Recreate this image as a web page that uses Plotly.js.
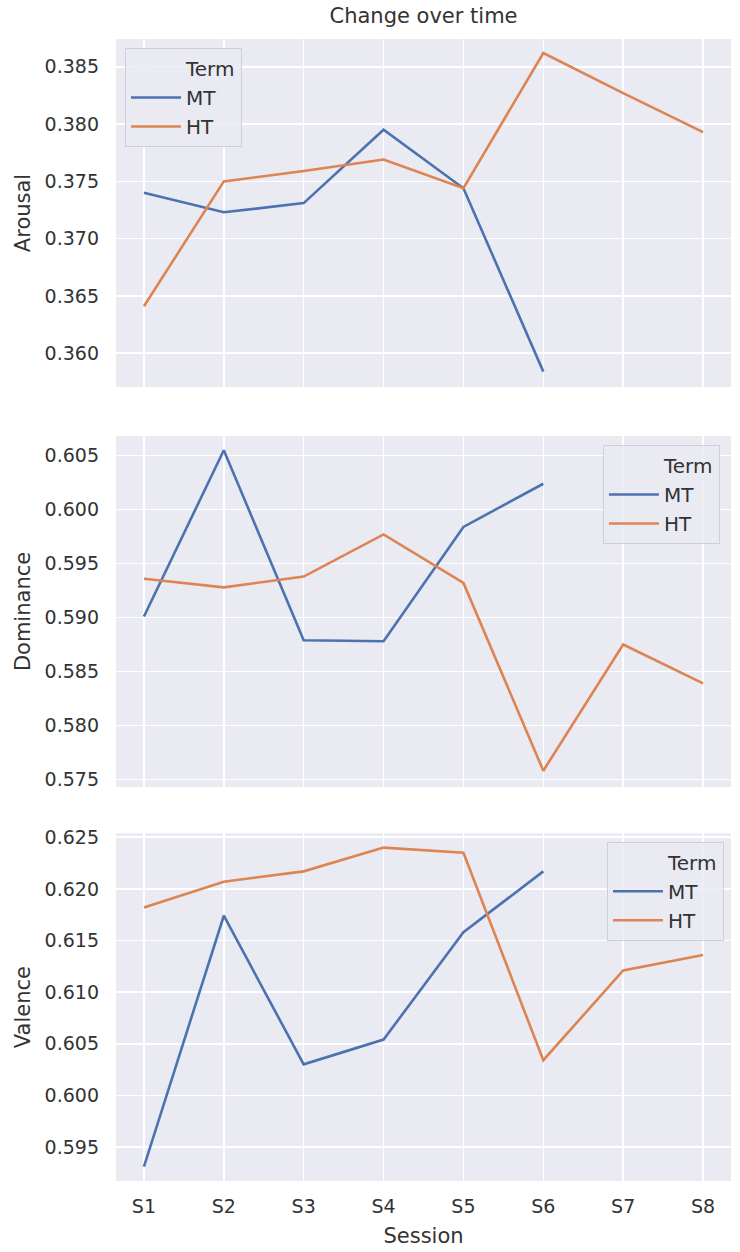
<!DOCTYPE html>
<html>
<head>
<meta charset="utf-8">
<script src="https://cdn.plot.ly/plotly-3.0.1.min.js"></script>
<style>html,body{margin:0;padding:0;background:#fff;}#chart{width:740px;height:1252px;}</style>
</head>
<body>
<div id="chart"></div>
<script>
const sessions = ["S1","S2","S3","S4","S5","S6","S7","S8"];
const mtSessions = ["S1","S2","S3","S4","S5","S6"];
const arousalMT = [0.3740, 0.3723, 0.3731, 0.3795, 0.3744, 0.3584];
const arousalHT = [0.3641, 0.3750, 0.3759, 0.3769, 0.3744, 0.3862, 0.3827, 0.3793];
const dominanceMT = [0.5901, 0.6055, 0.5879, 0.5878, 0.5984, 0.6024];
const dominanceHT = [0.5936, 0.5928, 0.5938, 0.5977, 0.5932, 0.5758, 0.5875, 0.5839];
const valenceMT = [0.5931, 0.6174, 0.6030, 0.6054, 0.6158, 0.6217];
const valenceHT = [0.6182, 0.6207, 0.6217, 0.6240, 0.6235, 0.6034, 0.6121, 0.6136];
const legendTitle = "Term";

const BLUE = "#4c72b0", ORANGE = "#dd8452";
const FONT = "DejaVu Sans, sans-serif";
const TXT = "#333333";

function tr(x, y, name, color, xa, ya, leg) {
  return {x: x, y: y, name: name, type: "scatter", mode: "lines",
    line: {color: color, width: 2.6}, xaxis: xa, yaxis: ya, legend: leg, hoverinfo: "skip"};
}
function header(xa, ya, leg) {
  return {x: [null], y: [null], name: legendTitle, type: "scatter", mode: "lines",
    line: {color: "rgba(0,0,0,0)", width: 0}, xaxis: xa, yaxis: ya, legend: leg,
    showlegend: true, hoverinfo: "skip"};
}
const data = [
  header("x", "y", "legend"),
  tr(mtSessions, arousalMT, "MT", BLUE, "x", "y", "legend"),
  tr(sessions, arousalHT, "HT", ORANGE, "x", "y", "legend"),
  header("x2", "y2", "legend2"),
  tr(mtSessions, dominanceMT, "MT", BLUE, "x2", "y2", "legend2"),
  tr(sessions, dominanceHT, "HT", ORANGE, "x2", "y2", "legend2"),
  header("x3", "y3", "legend3"),
  tr(mtSessions, valenceMT, "MT", BLUE, "x3", "y3", "legend3"),
  tr(sessions, valenceHT, "HT", ORANGE, "x3", "y3", "legend3")
];

function xax(anchor, show, title) {
  const a = {anchor: anchor, type: "category", categoryorder: "array", categoryarray: sessions,
    range: [-0.35, 7.35], showgrid: true, gridcolor: "#ffffff", gridwidth: 1.6,
    zeroline: false, showline: false, ticks: "", showticklabels: show,
    ticklabelstandoff: 12, tickfont: {size: 19, color: TXT, family: FONT}, fixedrange: true};
  if (title) a.title = {text: title, font: {size: 21, color: TXT, family: FONT}, standoff: 12};
  return a;
}
function yax(anchor, dom, rng, title) {
  return {anchor: anchor, domain: dom, range: rng, dtick: 0.005, tickformat: ".3f",
    showgrid: true, gridcolor: "#ffffff", gridwidth: 1.6, zeroline: false, showline: false,
    ticks: "", ticklabelstandoff: 16, tickfont: {size: 19, color: TXT, family: FONT},
    title: {text: title, font: {size: 21, color: TXT, family: FONT}, standoff: 8}, fixedrange: true};
}
function leg(x, y, xanchor) {
  return {x: x, y: y, xanchor: xanchor, yanchor: "top", xref: "paper", yref: "paper",
    bgcolor: "rgba(234,234,242,0.85)", bordercolor: "#cfcfd8", borderwidth: 1,
    font: {size: 20, color: TXT, family: FONT}, itemwidth: 50,
    traceorder: "normal", tracegroupgap: 0};
}

const layout = {
  width: 740, height: 1252,
  margin: {l: 116, r: 9, t: 39, b: 71},
  paper_bgcolor: "#ffffff", plot_bgcolor: "#eaeaf2",
  font: {family: FONT, color: TXT},
  title: {text: "Change over time", font: {size: 21, color: TXT, family: FONT},
    x: 0.5, xref: "paper", y: 1 - 16/1252, yref: "container", yanchor: "middle"},
  xaxis: xax("y", false),
  xaxis2: xax("y2", false),
  xaxis3: xax("y3", true, "Session"),
  yaxis: yax("x", [0.6953, 1.0], [0.35706, 0.38742], "Arousal"),
  yaxis2: yax("x2", [0.345, 0.6524], [0.57429, 0.60683], "Dominance"),
  yaxis3: yax("x3", [0.0, 0.3045], [0.5917, 0.62539], "Valence"),
  legend: leg(0.0146, 0.9921, "left"),
  legend2: leg(0.982, 0.6445, "right"),
  legend3: leg(0.9886, 0.2971, "right"),
  showlegend: true
};

Plotly.newPlot("chart", data, layout, {displayModeBar: false, staticPlot: true});
</script>
</body>
</html>
